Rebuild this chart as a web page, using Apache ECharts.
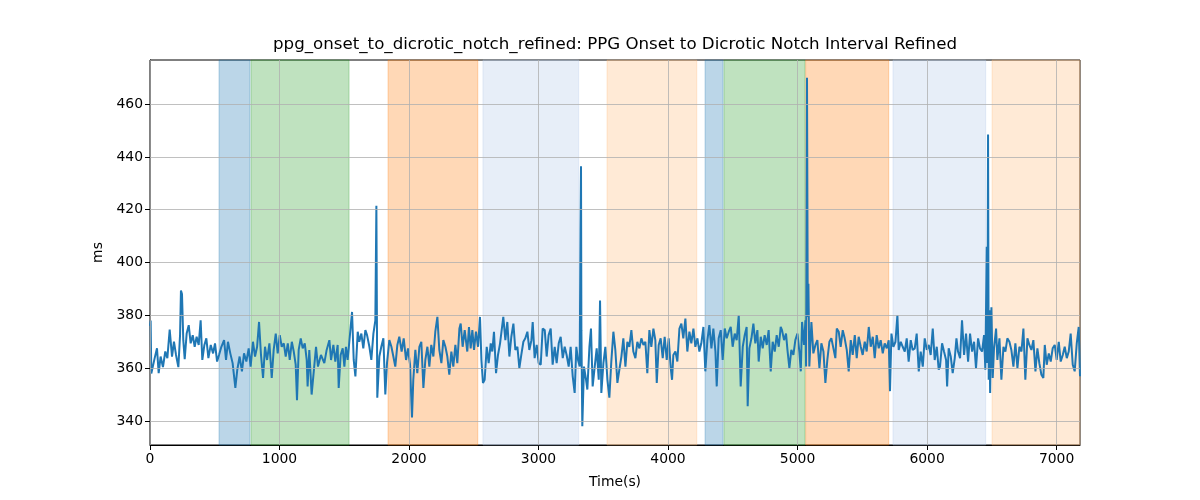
<!DOCTYPE html>
<html>
<head>
<meta charset="utf-8">
<script src="https://cdn.jsdelivr.net/npm/echarts@6/dist/echarts.min.js"></script>
<style>html,body{margin:0;padding:0;background:#fff}#c{width:1200px;height:500px}</style>
</head>
<body>
<div id="c"></div>
<script>
// ---- data ----
const titleText = "ppg_onset_to_dicrotic_notch_refined: PPG Onset to Dicrotic Notch Interval Refined";
const xName = "Time(s)";
const yName = "ms";
const xTicks = [0, 1000, 2000, 3000, 4000, 5000, 6000, 7000];
const yTicks = [340, 360, 380, 400, 420, 440, 460];

const times = [
0,5,10,36,54,67,82,100,118,134,152,170,185,201,219,232,239,247,257,268,283,299,314,330,345,360,376,391,404,420,435,451,469,487,502,518,533,551,572,587,602,620,638,659,674,692,710,726,744,762,777,795,811,827,842,857,873,888,904,922,940,955,971,986,1002,1017,1033,1048,1064,1079,1095,1110,1125,1135,1148,1164,1179,1195,1210,
1217,1230,1248,1261,1282,1297,1320,1346,1364,1385,1398,1416,1431,1449,1457,1472,1488,1501,1513,1526,1539,1560,1573,1586,1604,1616,1632,1647,1663,1676,1694,1709,1725,1740,1748,1755,1771,1786,1802,1817,1830,1848,1864,1879,1894,1910,1925,1943,1959,1977,1992,2008,2023,2033,2049,2064,2080,2095,2111,2126,2142,2157,2172,2188,2203,2219,2234,2250,2265,2281,2296,2311,2327,2342,2358,2373,2389,2399,2414,2430,
2438,2450,2463,2476,2489,2502,2517,2533,2548,2559,2571,2584,2600,2615,2631,2643,2656,2672,2687,2703,2716,2728,2744,2759,2775,2790,2806,2821,2837,2852,2867,2883,2898,2914,2929,2945,2955,2970,2986,3001,3017,3032,3048,3063,3078,3094,3109,3125,3140,3156,3171,3187,3202,3217,3233,3248,3264,3279,3292,3305,3318,3324,3328,3331,3338,3351,3367,3377,3393,3405,3418,3434,3449,3465,3475,3485,3501,3516,3532,3547,3562,3578,3593,3609,3624,3640,3655,
3671,3686,3701,3717,3732,3748,3763,3779,3794,3810,3825,3840,3856,3871,3887,3902,3913,3928,3943,3959,3974,3990,4005,4021,4031,4041,4057,4072,4088,4103,4118,4134,4149,4165,4180,4196,4211,4227,4242,4257,4273,4288,4304,4319,4335,4350,4366,4376,4391,4407,4422,4438,4453,4469,4484,4499,4515,4530,4546,4561,4577,4592,4607,4615,4628,4644,4659,4674,4690,4700,4716,4731,4746,4762,4777,4793,4808,4824,4839,4855,4870,
4880,4896,4911,4922,4937,4952,4968,4983,4999,5014,5025,5035,5050,5061,5066,5073,5079,5084,5091,5107,5122,5138,5153,5169,5184,5200,5215,5230,5246,5261,5277,5292,5303,5318,5333,5349,5364,5380,5395,5411,5426,5442,5457,5472,5488,5503,5519,5534,5550,5565,5581,5596,5611,5627,5642,5658,5673,5689,5704,5714,5725,5740,5756,5771,5781,5797,5812,5828,5843,5858,5874,5889,5905,5920,5936,5951,5967,5982,5998,6013,6028,6044,6059,6075,6090,
6100,6116,6131,6147,6155,6167,6183,6198,6214,6227,6239,6255,6270,6286,6301,6317,6332,6348,6363,6378,6394,6409,6425,6440,6450,6461,6466,6471,6476,6481,6487,6497,6507,6517,6533,6543,6559,6574,6590,6605,6620,6636,6651,6667,6682,6698,6713,6729,6744,6759,6775,6790,6806,6821,6837,6852,6867,6883,6898,6909,6924,6940,6955,6970,6986,7001,7017,7032,7048,7063,7079,7094,7109,7125,7140,7156,7171,7181
];

const values = [
376,378,358,363.8,367.5,358.1,364.4,360.4,366.3,363.8,374.6,364.4,370,365,360.4,372.5,389.4,388.1,370.6,363.4,373.1,376.3,369.4,372.5,368.1,371.9,368.8,378.1,363.1,368.8,371.3,363.8,368.8,365.6,369.4,362.5,365,368.1,370.6,363.1,370,365.6,361.9,352.5,359.4,364.4,358.8,365.6,362.5,367.5,360.6,370,364.4,368.1,377.5,365,356.3,368.1,363.1,369.4,356.3,366.9,373.1,365.6,372.5,368.1,369.4,364.4,369.4,363.1,370,366.3,361.3,347.9,366.9,371.3,367.5,369.4,363.1,
353.1,366.9,350,356.9,368.1,360.6,365,361.9,366.9,370.6,363.1,368.8,362.5,368.8,352.5,365,367.5,360.6,368.1,363.1,370,381.3,363.1,356.9,373.8,370,373.1,367.5,374.4,372.5,368.1,363.1,373.1,378.1,421.5,348.8,364.4,368.1,371.3,350,361.9,370.6,368.1,364.4,360.6,368.8,371.9,366.3,371.3,363.1,367.5,361.3,341.3,355.6,366.9,358.1,368.1,370,352.5,363.1,368.1,360.6,368.8,364.4,373.8,379.4,366.9,361.9,370.6,368.1,364.4,357.5,366.3,360.6,368.8,361.9,375,376.9,368.1,374.4,
374.4,366.3,375.6,367.5,374.4,366.9,373.8,368.1,379.4,363.1,354.4,355.6,368.1,361.9,369.4,366.3,373.8,358.1,365,369.4,368.8,379.4,370.6,377.5,364.4,371.9,376.9,366.9,368.1,360,365,370,371.3,373.8,366.9,370.6,377.5,363.8,368.8,361.9,361.3,375,374.4,364.4,372.5,375,361.3,368.1,361.9,369.4,371.9,363.8,368.1,365,360.6,368.1,356.9,350.6,368.1,363.1,360.6,412,436.5,374.4,338,360.6,355.6,351.9,368.1,375,353.1,360.6,367.5,355.6,385.6,350.6,361.9,368.1,355.6,348.8,362.5,373.8,366.9,354.4,359.4,364.4,371.3,
360.6,370,368.1,374.4,366.3,363.8,370,367.5,371.3,368.8,370,358.1,374.4,368.1,375,370.6,354.4,368.8,371.3,363.8,371.9,363.1,371.3,360,355.6,365,366.3,362.5,375,376.9,371.3,378.8,366.3,373.8,369.4,375,368.1,371.3,366.3,369.4,375.6,358.8,370.6,376.3,367.5,375,366.3,353.1,371.3,374.4,363.1,375,371.3,373.8,375.6,368.1,373.1,370.6,380,353.1,368.1,372.5,375.6,345.6,367.5,371.3,376.9,369.4,374.4,362.5,371.9,367.5,372.5,368.8,374.4,358.8,370,366.3,372.5,368.1,375.6,
374.4,370.6,373.1,366.9,360,366.9,365,370.6,373.1,366.3,358.8,377.5,368.8,378.1,360.6,470,379.4,392,360.6,377.5,365.6,368.8,370.6,360,369.4,366.3,354.4,363.1,370,371.3,367.5,363.8,375,373.8,368.1,374.4,371.3,366.9,358.8,370.6,365,372.5,363.8,371.9,368.1,365,370,366.3,375.6,368.1,371.9,363.8,372.5,367.5,370.6,365.6,369.4,367.5,370.6,351.3,373.1,368.1,370,380,366.9,370,368.1,366.3,371.3,362.5,370.6,366.9,367.5,373.1,358.8,366.3,360.6,371.3,366.9,368.8,365,375,363.1,368.1,359.4,
360.6,369.4,366.3,363.1,353.1,367.5,364.4,358.1,363.8,371.3,366.3,363.8,378.1,365,373.1,362.5,373.1,366.3,370,360,371.3,367.5,366.3,372.5,359.4,406,362,448.5,355.6,381.9,350.6,383.1,356.3,367.5,375,363.1,371.3,355.6,368.1,366.3,371.3,370,366.9,360.6,369.4,360,368.1,366.3,375,355.6,371.3,368.8,366.9,370.6,358.8,367.5,361.9,357.5,356.3,368.8,361.3,365.6,362.5,367.5,368.8,363.1,370,362.5,365,368.1,363.8,366.3,373.1,361.3,358.8,369.4,375.6,356.9
];

// shaded intervals (seconds) and their category
const bandStart = [533, 780, 1838, 2571, 3529, 4286, 4432, 5063, 5737, 6502];
const bandEnd   = [772, 1537, 2531, 3310, 4222, 4425, 5058, 5704, 6453, 7181];
const bandKind  = ['blue', 'green', 'orange', 'lightblue', 'lightorange', 'blue', 'green', 'orange', 'lightblue', 'lightorange'];

const xMin = 0, xMax = 7181, yMin = 330.9, yMax = 476.7;

// ---- styles ----
const kindColor = {
  blue: 'rgba(31,119,180,0.3)',
  green: 'rgba(44,160,44,0.3)',
  orange: 'rgba(255,127,14,0.3)',
  lightblue: 'rgba(174,199,232,0.3)',
  lightorange: 'rgba(255,187,120,0.3)'
};
const FONT = 'DejaVu Sans';

const lineData = times.map((t, i) => [t, values[i]]);
const bands = bandStart.map((s, i) => [
  { xAxis: s, itemStyle: { color: kindColor[bandKind[i]], borderColor: kindColor[bandKind[i]], borderWidth: 1 } },
  { xAxis: bandEnd[i] }
]);
const gridLines = xTicks.map(v => ({ xAxis: v })).concat(yTicks.map(v => ({ yAxis: v })));

const chart = echarts.init(document.getElementById('c'), null, { renderer: 'canvas' });
chart.setOption({
  animation: false,
  backgroundColor: '#ffffff',
  title: {
    text: titleText, left: 615, top: 36, textAlign: 'center', padding: 0,
    textStyle: { fontFamily: FONT, fontSize: 16.67, fontWeight: 'normal', color: '#000' }
  },
  grid: { left: 150, right: 120, top: 60, bottom: 55, show: true, borderColor: '#000', borderWidth: 1, backgroundColor: 'transparent' },
  xAxis: {
    type: 'value', min: xMin, max: xMax,
    name: xName, nameLocation: 'middle', nameGap: 30,
    nameTextStyle: { fontFamily: FONT, fontSize: 13.9, color: '#000' },
    axisLine: { show: true, onZero: false, lineStyle: { color: '#000', width: 1 } },
    axisTick: { show: true, length: 5, customValues: xTicks, lineStyle: { color: '#000' } },
    axisLabel: { customValues: xTicks, formatter: v => String(v), fontFamily: FONT, fontSize: 13.9, color: '#000', margin: 7 },
    splitLine: { show: false }
  },
  yAxis: {
    type: 'value', min: yMin, max: yMax,
    name: yName, nameLocation: 'middle', nameGap: 42, nameRotate: 90,
    nameTextStyle: { fontFamily: FONT, fontSize: 13.9, color: '#000' },
    axisLine: { show: true, onZero: false, lineStyle: { color: '#000', width: 1 } },
    axisTick: { show: true, length: 5, customValues: yTicks, lineStyle: { color: '#000' } },
    axisLabel: { customValues: yTicks, formatter: v => String(v), fontFamily: FONT, fontSize: 13.9, color: '#000', margin: 7 },
    splitLine: { show: false }
  },
  series: [
    {
      type: 'line', data: [], z: 1, silent: true,
      markArea: { silent: true, data: bands }
    },
    {
      type: 'line', data: [], z: 2, silent: true,
      markLine: { silent: true, symbol: 'none', label: { show: false },
        lineStyle: { color: '#b0b0b0', width: 0.8, type: 'solid' }, data: gridLines }
    },
    {
      type: 'line', data: lineData, z: 3, showSymbol: false, symbol: 'none',
      lineStyle: { color: '#1f77b4', width: 2 }
    }
  ]
});
</script>
</body>
</html>
